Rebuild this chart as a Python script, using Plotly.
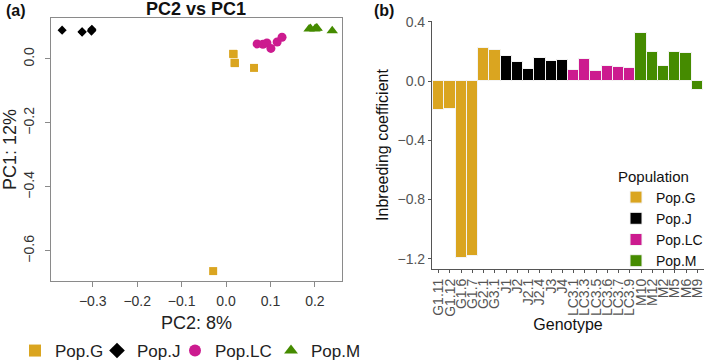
import plotly.graph_objects as go

# ---------------- data ----------------
populations = ["Pop.G", "Pop.J", "Pop.LC", "Pop.M"]
pop_colors = ["#DAA520", "#000000", "#CC1B8F", "#458B00"]
pop_symbols = ["square", "diamond", "circle", "triangle-up"]

# PCA scores (PC2 on x, PC1 on y), 6 genotypes per population
pc2_G = [0.016, 0.020, 0.063, -0.029, 0.017, 0.019]
pc1_G = [0.016, -0.013, -0.028, -0.663, 0.015, -0.012]
pc2_J = [-0.369, -0.324, -0.302, -0.303, -0.302, -0.324]
pc1_J = [0.090, 0.084, 0.093, 0.087, 0.090, 0.085]
pc2_LC = [0.070, 0.083, 0.092, 0.101, 0.115, 0.126]
pc1_LC = [0.047, 0.046, 0.050, 0.033, 0.053, 0.068]
pc2_M = [0.187, 0.203, 0.239, 0.200, 0.205, 0.190]
pc1_M = [0.094, 0.097, 0.088, 0.094, 0.096, 0.095]

pc2_values = [pc2_G, pc2_J, pc2_LC, pc2_M]
pc1_values = [pc1_G, pc1_J, pc1_LC, pc1_M]

# inbreeding coefficients per genotype
geno_G = ["G1.11", "G1.12", "G1.6", "G1.7", "G2.1", "G3.1"]
inb_G = [-0.196, -0.187, -1.193, -1.184, 0.221, 0.207]
geno_J = ["J1", "J2", "J2.1", "J2.4", "J3", "J4"]
inb_J = [0.169, 0.128, 0.083, 0.155, 0.133, 0.140]
geno_LC = ["LC3.1", "LC3.3", "LC3.5", "LC3.6", "LC3.7", "LC3.9"]
inb_LC = [0.072, 0.151, 0.068, 0.101, 0.095, 0.086]
geno_M = ["M10", "M12", "M2", "M5", "M6", "M9"]
inb_M = [0.322, 0.194, 0.104, 0.198, 0.191, -0.063]

genotypes = [geno_G, geno_J, geno_LC, geno_M]
inbreeding = [inb_G, inb_J, inb_LC, inb_M]

pca_xticks = [-0.3, -0.2, -0.1, 0.0, 0.1, 0.2]
pca_yticks = [0.0, -0.2, -0.4, -0.6]
inb_yticks = [0.4, 0.0, -0.4, -0.8, -1.2]

FONT = "Liberation Sans, Arial, Helvetica, sans-serif"


def minus(v, fmt):
    return (fmt % v).replace("-", "\u2212")


W, H = 709, 362
legend_widths = [37, 33, 51, 50]
marker_sizes = [8, 7, 9, 10]

fig = go.Figure()

for i, pop in enumerate(populations):
    fig.add_trace(go.Scatter(
        x=pc2_values[i], y=pc1_values[i], mode="markers", name=pop,
        marker=dict(symbol=pop_symbols[i], color=pop_colors[i],
                    size=marker_sizes[i], line=dict(width=0)),
        xaxis="x", yaxis="y", legend="legend", legendwidth=legend_widths[i],
    ))

all_genos = [g for grp in genotypes for g in grp]
for i, pop in enumerate(populations):
    fig.add_trace(go.Bar(
        x=genotypes[i], y=inbreeding[i], name=pop,
        marker=dict(color=pop_colors[i], line=dict(color="#F4F4F4", width=1)),
        width=1.0, xaxis="x2", yaxis="y2", legend="legend2",
    ))

axis_col = "#333333"
fig.update_layout(
    width=W, height=H,
    margin=dict(l=0, r=0, t=0, b=0, autoexpand=False),
    paper_bgcolor="white", plot_bgcolor="white",
    font=dict(family=FONT, color="#222222"),
    showlegend=True,
    bargap=0,
    xaxis=dict(
        domain=[51 / W, 342 / W], range=[-0.394, 0.261], automargin=False,
        tickvals=pca_xticks, ticktext=[minus(v, "%.1f") for v in pca_xticks],
        showgrid=False, zeroline=False, showline=True, mirror=True,
        linecolor="#8a8a8a", linewidth=1, ticks="outside", ticklen=5, tickcolor="#8a8a8a",
        tickfont=dict(size=14, color=axis_col), ticklabelstandoff=2,
        title=dict(text="PC2: 8%", font=dict(size=18, color="#222222"), standoff=8),
        anchor="y",
    ),
    yaxis=dict(
        domain=[(H - 281) / H, (H - 18) / H], range=[-0.694, 0.128], automargin=False,
        tickvals=pca_yticks, ticktext=[minus(v, "%.1f") for v in pca_yticks],
        tickangle=-90,
        showgrid=False, zeroline=False, showline=True, mirror=True,
        linecolor="#8a8a8a", linewidth=1, ticks="outside", ticklen=5, tickcolor="#8a8a8a",
        tickfont=dict(size=14, color=axis_col), ticklabelstandoff=5,
        title=dict(text="PC1: 12%", font=dict(size=18, color="#222222"), standoff=6),
        anchor="x",
    ),
    xaxis2=dict(
        domain=[432 / W, 704 / W], type="category", automargin=False,
        categoryorder="array", categoryarray=all_genos, range=[-0.6, 23.6],
        tickmode="array", tickvals=all_genos, ticktext=all_genos,
        tickangle=-90, showgrid=False, zeroline=False, showline=True,
        linecolor="#555555", linewidth=1.2, ticks="outside", ticklen=3, tickcolor="#555555",
        tickfont=dict(size=14, color="#555555"),
        title=dict(text="Genotype", font=dict(size=16, color="#111111"), standoff=0),
        anchor="y2",
    ),
    yaxis2=dict(
        domain=[(H - 269) / H, (H - 21) / H], range=[-1.269, 0.406], automargin=False,
        tickvals=inb_yticks, ticktext=[minus(v, "%.1f") for v in inb_yticks],
        showgrid=False, zeroline=False, showline=True,
        linecolor="#555555", linewidth=1.2, ticks="outside", ticklen=3, tickcolor="#555555",
        tickfont=dict(size=14, color="#555555"),
        title=dict(text="Inbreeding coefficient", font=dict(size=16, color="#111111"), standoff=4),
        anchor="x2",
    ),
    legend=dict(
        orientation="h", x=15 / W, xanchor="left", y=-7 / H, yanchor="bottom",
        font=dict(size=17, color="#222222"), bgcolor="rgba(0,0,0,0)",
        itemsizing="constant",
    ),
    legend2=dict(
        orientation="v", x=616 / W, xanchor="left", y=(H - 162) / H, yanchor="top",
        title=dict(text="Population", font=dict(size=15, color="#111111")),
        font=dict(size=14, color="#111111"), bgcolor="rgba(0,0,0,0)",
        tracegroupgap=0, itemwidth=30,
    ),
    annotations=[
        dict(text="<b>(a)</b>", x=4 / W, y=(H - 10) / H, xref="paper", yref="paper", showarrow=False,
             font=dict(size=16, color="#111111"), xanchor="left", yanchor="middle"),
        dict(text="<b>PC2 vs PC1</b>", x=196 / W, y=(H - 9) / H, xref="paper", yref="paper",
             showarrow=False, font=dict(size=18, color="#111111"), xanchor="center", yanchor="middle"),
        dict(text="<b>(b)</b>", x=372 / W, y=(H - 10) / H, xref="paper", yref="paper",
             showarrow=False, font=dict(size=16, color="#111111"), xanchor="left", yanchor="middle"),
    ],
)

fig.write_html(
    "out.html",
    config={"displayModeBar": False},
    post_script="document.body.style.margin='0';document.body.style.overflow='hidden';",
)
